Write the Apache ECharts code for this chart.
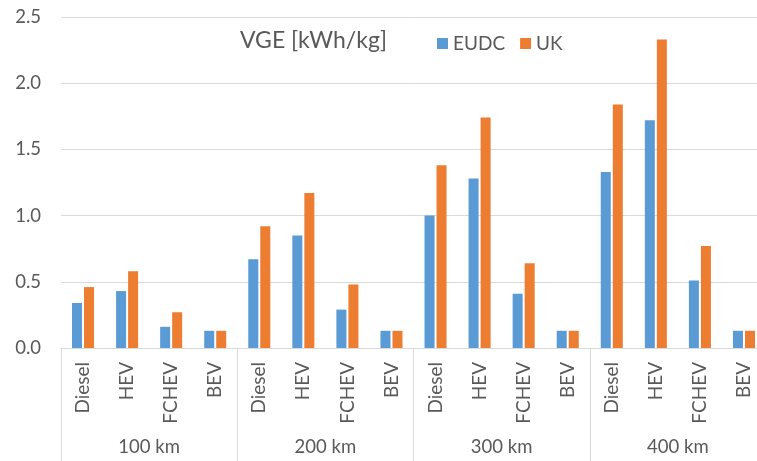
<!DOCTYPE html>
<html>
<head>
<meta charset="utf-8">
<script src="https://cdn.jsdelivr.net/npm/echarts@6/dist/echarts.min.js"></script>
<style>
  html, body { margin: 0; padding: 0; background: #fff; overflow: hidden; }
  #chart { width: 767px; height: 461px; }
</style>
</head>
<body>
<div id="chart"></div>
<script>
// vehicle types repeated for each distance group
const vehicles = ["Diesel", "HEV", "FCHEV", "BEV"];
const distances = ["100 km", "200 km", "300 km", "400 km"];
const yTicks = [0, 0.5, 1.0, 1.5, 2.0, 2.5];

// VGE values [kWh/kg], in order 100 km .. 400 km, Diesel/HEV/FCHEV/BEV
const eudc = [0.34, 0.43, 0.16, 0.13, 0.67, 0.85, 0.29, 0.13, 1.00, 1.28, 0.41, 0.13, 1.33, 1.72, 0.51, 0.13];
const uk = [0.46, 0.58, 0.27, 0.13, 0.92, 1.17, 0.48, 0.13, 1.38, 1.74, 0.64, 0.13, 1.84, 2.33, 0.77, 0.13];

const categories = [];
distances.forEach(function () { vehicles.forEach(function (v) { categories.push(v); }); });

const font = "Lato, 'Open Sans', sans-serif";
const textColor = "#595959";
const lineColor = "#d9d9d9";

// the reference plot runs a little past the right edge of the 757px picture
const chart = echarts.init(document.getElementById("chart"), null, { renderer: "canvas" });

chart.setOption({
  animation: false,
  title: {
    text: "VGE [kWh/kg]",
    left: 240,
    top: 29,
    padding: 0,
    textStyle: { fontFamily: font, fontSize: 23, fontWeight: "normal", color: textColor }
  },
  legend: {
    left: 437,
    top: 34,
    padding: 0,
    itemWidth: 11,
    itemHeight: 11,
    itemGap: 15,
    icon: "rect",
    textStyle: { fontFamily: font, fontSize: 19, color: textColor },
    data: ["EUDC", "UK"]
  },
  grid: { left: 61, right: 1, top: 17, bottom: 113, containLabel: false },
  xAxis: [
    {
      type: "category",
      data: categories,
      axisLine: { lineStyle: { color: lineColor } },
      axisTick: { show: false },
      axisLabel: {
        rotate: 90,
        interval: 0,
        margin: 14,
        fontFamily: font,
        fontSize: 19,
        color: textColor
      }
    },
    {
      type: "category",
      data: distances,
      position: "bottom",
      axisLine: { show: false },
      axisTick: { show: true, length: 115, lineStyle: { color: lineColor } },
      axisLabel: {
        margin: 90,
        fontFamily: font,
        fontSize: 18.5,
        color: textColor
      }
    }
  ],
  yAxis: {
    type: "value",
    min: yTicks[0],
    max: yTicks[yTicks.length - 1],
    interval: 0.5,
    axisLine: { show: false },
    axisTick: { show: false },
    splitLine: { lineStyle: { color: lineColor } },
    axisLabel: {
      margin: 20,
      fontFamily: font,
      fontSize: 18.5,
      color: textColor,
      formatter: function (v) { return v.toFixed(1); }
    }
  },
  series: [
    {
      name: "EUDC",
      type: "bar",
      data: eudc,
      barGap: "20%",
      barCategoryGap: "50%",
      itemStyle: { color: "#5b9bd5" }
    },
    {
      name: "UK",
      type: "bar",
      data: uk,
      itemStyle: { color: "#ed7d31" }
    }
  ]
});
</script>
</body>
</html>
